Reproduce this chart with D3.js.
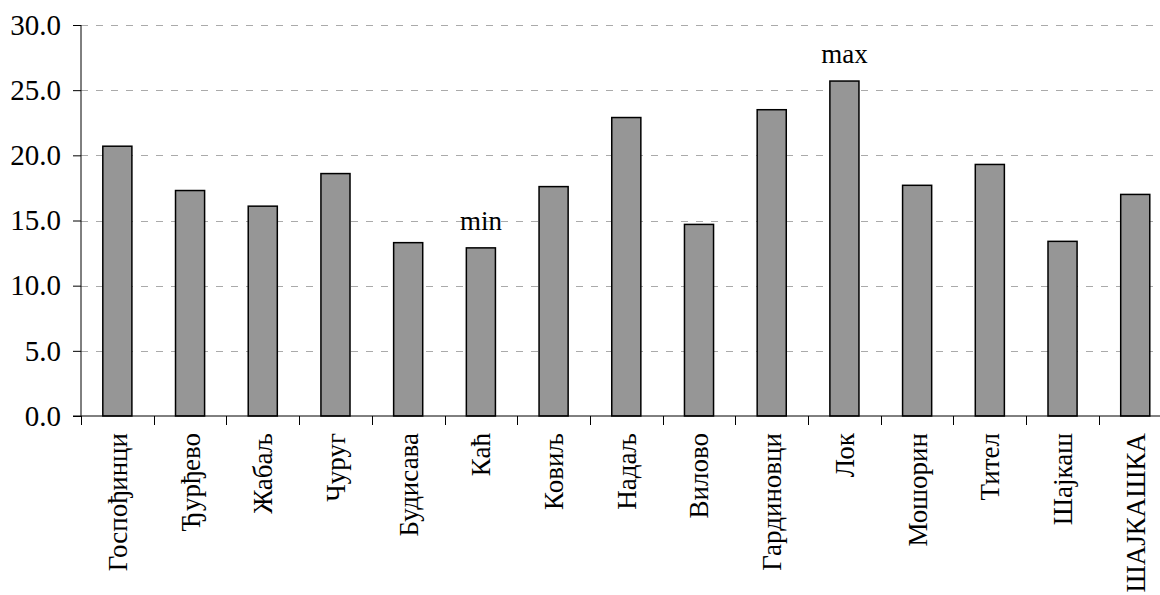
<!DOCTYPE html>
<html>
<head>
<meta charset="utf-8">
<script src="https://cdn.jsdelivr.net/npm/d3@7"></script>
</head>
<body style="margin:0">
<svg id="chart" width="1160" height="595" font-family="Liberation Serif" style="font-family:'Liberation Serif', monospace"></svg>
<script>
const categories = ["Госпођинци","Ђурђево","Жабаљ","Чуруг","Будисава","Каћ","Ковиљ","Надаљ","Вилово","Гардиновци","Лок","Мошорин","Тител","Шајкаш","ШАЈКАШКА"];
const values = [20.7, 17.3, 16.1, 18.6, 13.3, 12.9, 17.6, 22.9, 14.7, 23.5, 25.7, 17.7, 19.3, 13.4, 17.0];
const yTicks = [0, 5, 10, 15, 20, 25, 30];
const annotations = [{cat: "Каћ", text: "min"}, {cat: "Лок", text: "max"}];

const FONT = '"Liberation Serif", monospace';
const chartSvg = d3.select("#chart");
const mLeft = 81, mTop = 25, mBottom = 416, mRight = 1171.6;
const fs = 27;

const xScale = d3.scaleBand().domain(categories).range([mLeft, mRight]).paddingInner(0.6).paddingOuter(0.3);
const yScale = d3.scaleLinear().domain([0, 30]).range([mBottom, mTop]);

// gridlines
chartSvg.append("g").selectAll("line").data(yTicks.filter(d => d > 0)).join("line")
  .attr("x1", mLeft).attr("x2", 1160)
  .attr("y1", d => Math.round(yScale(d)) + 0.5).attr("y2", d => Math.round(yScale(d)) + 0.5)
  .attr("stroke", "#aaa").attr("stroke-width", 1).attr("stroke-dasharray", "7,8");

// bars
chartSvg.append("g").selectAll("rect").data(categories).join("rect")
  .attr("x", d => xScale(d)).attr("width", xScale.bandwidth())
  .attr("y", (d, i) => yScale(values[i])).attr("height", (d, i) => mBottom - yScale(values[i]))
  .attr("fill", "#969696").attr("stroke", "#000").attr("stroke-width", 1.5);

// y axis
const gy = chartSvg.append("g").attr("transform", `translate(${mLeft},0)`)
  .call(d3.axisLeft(yScale).tickValues(yTicks).tickFormat(d3.format(".1f")).tickSize(8).tickPadding(12))
  .attr("font-family", "Liberation Serif").attr("font-size", 29);
gy.select(".domain").attr("d", `M0,${mTop}V${mBottom}`).attr("stroke", "#000");
gy.selectAll(".tick line").attr("stroke", "#000");
gy.selectAll("text")
  .attr("font-family", "Liberation Serif").attr("font-size", 29)
  .style("font-family", FONT).style("font-size", "29px").attr("fill", "#000");

// x axis
const gx = chartSvg.append("g").attr("transform", `translate(0,${mBottom})`)
  .call(d3.axisBottom(xScale).tickSize(0).tickPadding(0))
  .attr("font-family", "Liberation Serif").attr("font-size", fs);
gx.select(".domain").attr("d", `M${mLeft - 8},0H1160`).attr("stroke", "#000");
gx.selectAll(".tick text")
  .attr("font-family", "Liberation Serif").attr("font-size", fs)
  .style("font-family", FONT).style("font-size", fs + "px").attr("fill", "#000")
  .attr("text-anchor", "end")
  .attr("transform", "rotate(-90)")
  .attr("x", -17).attr("y", 0).attr("dy", "0.35em");
// tick marks at band boundaries
gx.append("g").selectAll("line").data(categories).join("line")
  .attr("x1", d => Math.round(xScale(d) - xScale.step() * xScale.paddingInner() / 2) + 0.5)
  .attr("x2", d => Math.round(xScale(d) - xScale.step() * xScale.paddingInner() / 2) + 0.5)
  .attr("y1", 0).attr("y2", 9).attr("stroke", "#000");

// annotations
chartSvg.append("g").selectAll("text").data(annotations).join("text")
  .attr("x", d => xScale(d.cat) + xScale.bandwidth() / 2)
  .attr("y", d => yScale(values[categories.indexOf(d.cat)]) - 18)
  .attr("text-anchor", "middle")
  .attr("font-family", "Liberation Serif").attr("font-size", fs)
  .style("font-family", FONT).style("font-size", fs + "px").attr("fill", "#000")
  .text(d => d.text);
</script>
</body>
</html>
